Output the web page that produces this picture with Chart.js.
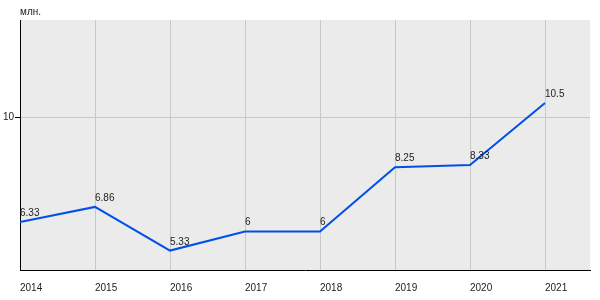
<!DOCTYPE html>
<html>
<head>
<meta charset="utf-8">
<script src="https://cdn.jsdelivr.net/npm/chart.js@4/dist/chart.umd.min.js"></script>
<style>
html,body{margin:0;padding:0;background:#fff;}
#wrap{width:600px;height:300px;}
</style>
</head>
<body>
<div id="wrap"><canvas id="c" width="600" height="300"></canvas></div>
<script>
const years = [2014, 2015, 2016, 2017, 2018, 2019, 2020, 2021];
const values = [6.33, 6.86, 5.33, 6, 6, 8.25, 8.33, 10.5];
const pointLabels = ['6.33', '6.86', '5.33', '6', '6', '8.25', '8.33', '10.5'];
const yTicks = [10];
const unitLabel = 'млн.';

const FONT = "'Liberation Sans', Arial, sans-serif";

const bgPlugin = {
  id: 'bg',
  beforeDraw(chart) {
    const {ctx, chartArea: a} = chart;
    ctx.save();
    ctx.fillStyle = '#ebebeb';
    ctx.fillRect(a.left, a.top, a.right - a.left, a.bottom - a.top);
    ctx.restore();
  },
  afterDraw(chart) {
    const {ctx, chartArea: a} = chart;
    ctx.save();
    ctx.font = '10px ' + FONT;
    ctx.fillStyle = '#222';
    ctx.textAlign = 'left';
    ctx.textBaseline = 'middle';
    ctx.fillText(unitLabel, a.left, a.top - 8);
    ctx.restore();
  },
  afterDatasetsDraw(chart) {
    const {ctx} = chart;
    const meta = chart.getDatasetMeta(0);
    ctx.save();
    ctx.font = '10px ' + FONT;
    ctx.fillStyle = '#222';
    ctx.textAlign = 'left';
    ctx.textBaseline = 'alphabetic';
    meta.data.forEach((p, i) => {
      ctx.fillText(pointLabels[i], p.x, p.y - 6);
    });
    ctx.restore();
  }
};

new Chart(document.getElementById('c'), {
  type: 'line',
  data: {
    datasets: [{
      data: years.map((y, i) => ({x: y, y: values[i]})),
      borderColor: '#0050e6',
      borderWidth: 2,
      pointRadius: 0,
      tension: 0,
      fill: false
    }]
  },
  options: {
    responsive: false,
    animation: false,
    layout: {padding: {top: 20, right: 10, left: 0, bottom: 0}},
    plugins: {legend: {display: false}, tooltip: {enabled: false}},
    scales: {
      x: {
        type: 'linear',
        min: 2014,
        max: 2014 + 570 / 75,
        afterBuildTicks(s) { s.ticks = years.map(v => ({value: v})); },
        afterFit(s) { s.height = 30; },
        grid: {color: '#c8c8c8', lineWidth: 1, drawTicks: false},
        border: {color: '#000', width: 1},
        ticks: {
          align: 'start',
          padding: 12,
          maxRotation: 0,
          autoSkip: false,
          color: '#222',
          font: {family: FONT, size: 10},
          callback: v => String(v)
        }
      },
      y: {
        min: 4.65,
        max: 13.41,
        afterBuildTicks(s) { s.ticks = yTicks.map(v => ({value: v})); },
        afterFit(s) { s.width = 20; },
        grid: {color: '#c8c8c8', lineWidth: 1, tickColor: '#000', tickLength: 5},
        border: {color: '#000', width: 1},
        ticks: {
          padding: 1,
          color: '#222',
          font: {family: FONT, size: 10},
          callback: v => String(v)
        }
      }
    }
  },
  plugins: [bgPlugin]
});
</script>
</body>
</html>
